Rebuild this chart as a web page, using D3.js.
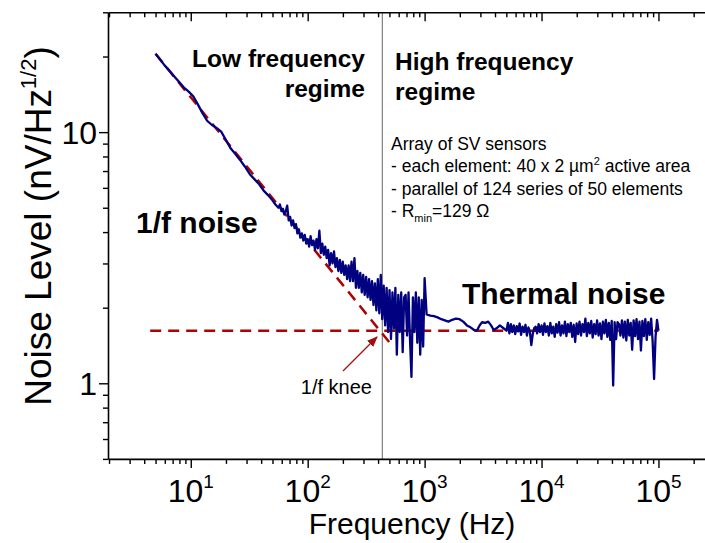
<!DOCTYPE html>
<html><head><meta charset="utf-8">
<script src="https://cdn.jsdelivr.net/npm/d3@7"></script>
<style>
body{margin:0;background:#fff}
svg{display:block}
text{font-family:"Liberation Sans",Arial,Helvetica,sans-serif}
</style>
</head><body>
<svg id="c" width="705" height="543"></svg>
<script>
// ---------------- data ----------------
// 1/f part, smooth (Hz, nV/Hz^1/2)
const lowFreq  = [5.0,5.5,6.0,6.6,7.2,8.0,8.8,9.6,10.5,11.5,12.6,13.8,15.1,16.6,18.2,20,22,24,26.4,29,32,35,38.5,42,46,50,53];
const lowNoise = [20.5,19.4,18.4,17.5,16.7,15.8,15.0,14.5,13.9,12.9,11.9,11.1,10.7,10.4,10.05,9.3,8.6,8.2,7.75,7.3,6.8,6.5,6.2,5.85,5.6,5.35,5.15];
// noisy part up to 1 kHz
const midFreq  = [56.2,57.9,59.6,61.4,63.1,65.0,66.8,68.8,70.8,72.9,75.0,77.2,79.4,81.7,84.1,86.6,89.1,91.7,94.4,97.2,
  100,102.9,105.9,109.0,112.2,115.5,118.9,122.3,125.9,129.6,133.4,137.2,141.3,145.4,149.6,154.0,158.5,163.1,167.9,172.8,
  177.8,183.0,188.4,193.9,199.5,205.4,211.3,217.5,223.9,230.4,237.1,244.1,251.2,258.5,266.1,273.8,281.8,290.1,298.5,307.2,
  316.2,325.4,335.0,344.7,354.8,365.2,375.8,386.8,398.1,409.7,421.7,434.0,446.7,459.7,473.2,487.0,501.2,515.8,530.9,546.4,
  562.3,578.7,595.7,613.1,631.0,649.4,668.3,687.9,707.9,728.6,749.9,771.8,794.3,817.5,841.4,866.0,891.3,917.3,944.1,971.6,1000];
const midNoise = [5.0,5.15,4.85,4.95,4.7,4.85,5.1,4.45,4.6,4.25,4.45,4.15,4.3,3.95,4.1,3.8,3.95,3.7,3.9,3.6,
  3.75,3.5,3.85,3.55,3.7,3.4,3.75,3.45,4.05,3.3,3.6,3.25,3.5,3.15,3.4,2.95,3.3,3.0,3.35,2.9,
  3.15,2.8,3.1,2.75,3.05,2.7,2.95,2.6,2.95,2.55,3.05,2.55,3.15,2.4,2.8,2.4,2.75,2.3,2.7,2.25,
  2.65,2.2,2.6,2.15,2.55,2.05,2.5,1.95,2.6,1.9,2.7,1.8,2.45,1.7,2.4,1.6,2.35,1.5,2.3,1.65,
  2.4,1.3,2.25,1.6,2.3,1.33,2.2,2.25,1.55,2.3,1.5,1.06,2.2,1.6,2.3,1.45,2.2,1.3,2.15,1.4,2.62];
// smooth stretch 1-5 kHz
const flatFreq  = [1040,1120,1200,1290,1390,1490,1600,1720,1850,1990,2140,2300,2470,2650,2800,2950,3100,3300,3500,3700,3900,4150,4400,4700];
const flatNoise = [1.88,1.86,1.85,1.83,1.80,1.78,1.76,1.79,1.81,1.80,1.76,1.70,1.67,1.63,1.62,1.70,1.75,1.74,1.76,1.70,1.63,1.66,1.70,1.66];
// noisy thermal floor 5 kHz - 100 kHz
const highFreq = [5012,5158,5309,5464,5623,5787,5957,6131,6310,6494,6683,6879,7079,7286,7499,7718,7943,8175,8414,8660,8913,9173,9441,9716,10000,
  10290,10590,10900,11220,11550,11890,12230,12590,12960,13340,13720,14130,14540,14960,15400,15850,16310,16790,17280,17780,18300,18840,19390,19950,
  20540,21130,21750,22390,23040,23710,24410,25120,25850,26610,27380,28180,29010,29850,30720,31620,32540,33500,34470,35480,36520,37580,38680,39810,
  40970,42170,43400,44670,45970,47320,48700,50120,51580,53090,54640,56230,57870,59570,61310,63100,64940,66830,68790,70790,72860,74990,77180,79430,
  81750,84140,86600,89130,91730,94410,97160,100000];
const highNoise = [1.62,1.74,1.58,1.72,1.60,1.70,1.57,1.69,1.61,1.73,1.56,1.68,1.60,1.71,1.55,1.67,1.61,1.42,1.57,1.66,1.68,1.58,1.72,1.60,1.70,
  1.56,1.73,1.60,1.69,1.55,1.74,1.58,1.68,1.53,1.72,1.59,1.75,1.55,1.70,1.58,1.76,1.54,1.72,1.60,1.74,1.53,1.71,1.46,1.73,
  1.57,1.76,1.55,1.72,1.60,1.81,1.54,1.74,1.58,1.77,1.52,1.72,1.57,1.78,1.55,1.73,1.50,1.76,1.58,1.79,1.53,1.74,1.49,1.77,
  0.98,1.75,1.50,1.75,1.72,1.55,1.78,1.52,1.76,1.48,1.79,1.55,1.74,1.36,1.78,1.54,1.80,1.50,1.76,1.35,1.77,1.54,1.80,1.49,
  1.75,1.56,1.81,1.47,1.04,1.53,1.79,1.62];
// fitted guides
const fitFreq = [5, 515], fitLevel = [20.5, 1.43];
const floorFreq = [4.5, 100000], floorLevel = [1.62, 1.62];
const kneeFreq = 435;
// ticks
const xTickExp = [1, 2, 3, 4, 5];
const yTickLabels = ["1", "10"];
const yTickValues = [1, 10];

// ---------------- drawing ----------------
const svg = d3.select("#c");
svg.append("rect").attr("width",705).attr("height",543).attr("fill","#fff");

const X0 = 108, X1 = 705, Y0 = 12.3, Y1 = 458.9;
const x = d3.scaleLog().domain([1.96, 250000]).range([X0, X1]);
const y = d3.scaleLog().domain([0.5, 30]).range([Y1, Y0]);

const plot = svg.append("g");
const clipId = "clp";
svg.append("clipPath").attr("id", clipId).append("rect")
  .attr("x", X0).attr("y", Y0).attr("width", X1 - X0).attr("height", Y1 - Y0);

// knee line
plot.append("line").attr("x1", x(kneeFreq)).attr("x2", x(kneeFreq))
  .attr("y1", Y0).attr("y2", Y1).attr("stroke", "#808080").attr("stroke-width", 1.2);

const line = d3.line().x(d => x(d[0])).y(d => y(d[1]));
const zip = (a, b) => a.map((v, i) => [v, b[i]]);
const series = zip(lowFreq, lowNoise).concat(zip(midFreq, midNoise), zip(flatFreq, flatNoise), zip(highFreq, highNoise));

// dashed fits
plot.append("path").datum(zip(fitFreq, fitLevel)).attr("d", line)
  .attr("fill", "none").attr("stroke", "#b00000").attr("stroke-width", 2.5).attr("stroke-dasharray", "11,7");
plot.append("path").datum(zip(floorFreq, floorLevel)).attr("d", line)
  .attr("fill", "none").attr("stroke", "#b00000").attr("stroke-width", 2.5).attr("stroke-dasharray", "11,7");

// data
plot.append("path").datum(series).attr("d", line).attr("clip-path", `url(#${clipId})`)
  .attr("fill", "none").attr("stroke", "#000080").attr("stroke-width", 2.3).attr("stroke-linejoin", "round");

// axes
const minorX = [], minorY = [];
[1, 10, 100, 1000, 10000, 100000].forEach(d => { for (let k = 2; k <= 9; k++) minorX.push(d * k); });
[0.1, 1, 10].forEach(d => { for (let k = 2; k <= 9; k++) { const v = d * k; if (v >= 0.5 && v <= 30) minorY.push(v); } });
const majX = xTickExp.map(e => Math.pow(10, e));

function styleAxis(g) {
  g.select(".domain").attr("stroke", "#000").attr("stroke-width", 1.6);
  g.selectAll(".tick line").attr("stroke", "#000").attr("stroke-width", 1.4);
  g.selectAll(".tick text").remove();
}
const xb = svg.append("g").attr("transform", `translate(0,${Y1})`);
xb.call(d3.axisBottom(x).tickValues(majX).tickSize(9).tickSizeOuter(0).tickFormat(""));
styleAxis(xb);
const xbm = svg.append("g").attr("transform", `translate(0,${Y1})`);
xbm.call(d3.axisBottom(x).tickValues(minorX.filter(v => v > 1.96)).tickSize(5).tickSizeOuter(0).tickFormat(""));
styleAxis(xbm); xbm.select(".domain").remove();

const xt = svg.append("g").attr("transform", `translate(0,${Y0})`);
xt.call(d3.axisBottom(x).tickValues(majX).tickSize(9).tickSizeOuter(0).tickFormat(""));
styleAxis(xt);
const xtm = svg.append("g").attr("transform", `translate(0,${Y0})`);
xtm.call(d3.axisBottom(x).tickValues(minorX.filter(v => v > 1.96)).tickSize(5).tickSizeOuter(0).tickFormat(""));
styleAxis(xtm); xtm.select(".domain").remove();

const yl = svg.append("g").attr("transform", `translate(${X0},0)`);
yl.call(d3.axisLeft(y).tickValues(yTickValues).tickSize(9).tickSizeOuter(0).tickFormat(""));
styleAxis(yl);
const ylm = svg.append("g").attr("transform", `translate(${X0},0)`);
ylm.call(d3.axisLeft(y).tickValues(minorY).tickSize(5).tickSizeOuter(0).tickFormat(""));
styleAxis(ylm); ylm.select(".domain").remove();

// tick labels
xTickExp.forEach(e => {
  const t = svg.append("text").attr("x", x(Math.pow(10, e))).attr("y", 502)
    .attr("text-anchor", "middle").attr("font-size", 32).attr("fill", "#000");
  t.append("tspan").text("10");
  t.append("tspan").attr("dy", -14).attr("font-size", 19).text(String(e));
});
yTickLabels.forEach((lab, i) => {
  svg.append("text").attr("x", 97).attr("y", y(yTickValues[i])).attr("dy", "0.36em")
    .attr("text-anchor", "end").attr("font-size", 32).attr("fill", "#000").text(lab);
});

// axis titles
svg.append("text").attr("x", 412).attr("y", 534).attr("text-anchor", "middle")
  .attr("font-size", 30).text("Frequency (Hz)");
const yt = svg.append("text").attr("transform", "translate(51,226) rotate(-90)")
  .attr("text-anchor", "middle").attr("font-size", 37);
yt.append("tspan").text("Noise Level (nV/Hz");
yt.append("tspan").attr("dy", -15).attr("font-size", 22).text("1/2");
yt.append("tspan").attr("dy", 15).text(")");

// annotations
function bold(txt, xx, yy, size, anchor) {
  svg.append("text").attr("x", xx).attr("y", yy).attr("font-size", size).attr("font-weight", "bold")
    .attr("text-anchor", anchor || "start").attr("fill", "#000").text(txt);
}
bold("Low frequency", 365, 67, 24.5, "end");
bold("regime", 365, 97, 24.5, "end");
bold("High frequency", 395, 70, 24.5);
bold("regime", 395, 100, 24.5);
bold("1/f noise", 136, 233, 30);
bold("Thermal noise", 462, 304, 30);

const info = svg.append("g").attr("font-size", 17.5).attr("fill", "#000");
info.append("text").attr("x", 391).attr("y", 150).text("Array of SV sensors");
const l2 = info.append("text").attr("x", 391).attr("y", 172);
l2.append("tspan").text("- each element: 40 x 2 \u00B5m");
l2.append("tspan").attr("dy", -7).attr("font-size", 11).text("2");
l2.append("tspan").attr("dy", 7).text(" active area");
info.append("text").attr("x", 391).attr("y", 195).text("- parallel of 124 series of 50 elements");
const l4 = info.append("text").attr("x", 391).attr("y", 217);
l4.append("tspan").text("- R");
l4.append("tspan").attr("dy", 5).attr("font-size", 11).text("min");
l4.append("tspan").attr("dy", -5).text("=129 \u03A9");

// knee label + arrow
svg.append("defs").append("marker").attr("id", "ah").attr("viewBox", "0 0 10 10")
  .attr("refX", 9).attr("refY", 5).attr("markerWidth", 9).attr("markerHeight", 9).attr("orient", "auto")
  .append("path").attr("d", "M0,1 L10,5 L0,9 Z").attr("fill", "#a01010");
svg.append("line").attr("x1", 343).attr("y1", 371).attr("x2", 377).attr("y2", 337)
  .attr("stroke", "#a01010").attr("stroke-width", 1.2).attr("marker-end", "url(#ah)");
svg.append("text").attr("x", 372).attr("y", 394).attr("text-anchor", "end").attr("font-size", 20).text("1/f knee");
</script>
</body></html>
